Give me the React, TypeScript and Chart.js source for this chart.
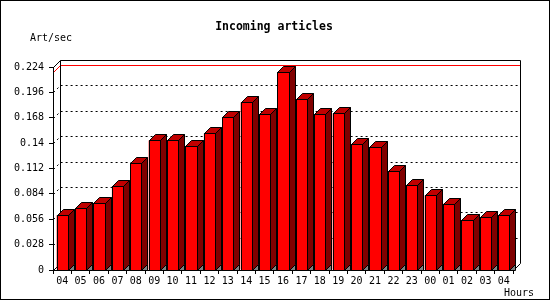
import React, { useEffect, useRef } from "react";
import { Chart, registerables } from "chart.js";

Chart.register(...registerables);

const categories = ["04","05","06","07","08","09","10","11","12","13","14","15","16","17","18","19","20","21","22","23","00","01","02","03","04"];
const articlesPerSec = [0.0603,0.068,0.0735,0.0923,0.118,0.143,0.143,0.1364,0.1507,0.1683,0.1849,0.1716,0.218,0.1882,0.1716,0.1727,0.1386,0.1353,0.1088,0.0934,0.0823,0.0731,0.0548,0.0581,0.0603];
const yTicks = [0,0.028,0.056,0.084,0.112,0.14,0.168,0.196,0.224];
const yTickLabels = ["0","0.028","0.056","0.084","0.112","0.14","0.168","0.196","0.224"];
const titleText = "Incoming articles";
const yTitle = "Art/sec";
const xTitle = "Hours";

const MONO = '"DejaVu Sans Mono", monospace';
const D = 7; // plot plane depth
const BD = 6; // bar depth

const plugin3d = {
  id: "jp3d",
  beforeDraw(chart: any) {
    const ctx = chart.ctx;
    const { left, top, right, bottom } = chart.chartArea;
    const ys = chart.scales.y;
    ctx.save();
    ctx.fillStyle = "#fff";
    ctx.fillRect(0, 0, chart.width, chart.height);
    ctx.strokeStyle = "#000";
    ctx.lineWidth = 1;
    ctx.strokeRect(0.5, 0.5, chart.width - 1, chart.height - 1);

    // texts
    ctx.fillStyle = "#000";
    ctx.font = `bold 11.5px ${MONO}`;
    ctx.textAlign = "center";
    ctx.textBaseline = "alphabetic";
    ctx.fillText(titleText, 274, 30);
    ctx.font = `10px ${MONO}`;
    ctx.textAlign = "left";
    ctx.fillText(yTitle, 30, 40.5);
    ctx.fillText(xTitle, 504, 296);

    const L = Math.round(left), T = Math.round(top), R = Math.round(right), B = Math.round(bottom);
    // dashed grid on back plane
    ctx.setLineDash([2, 3]);
    ctx.strokeStyle = "#000";
    for (const v of yTicks) {
      if (v === 0 || v === yTicks[yTicks.length - 1]) continue;
      const py = Math.round(ys.getPixelForValue(v));
      ctx.beginPath();
      ctx.moveTo(L + 0.5, py + 0.5);
      ctx.lineTo(L + D + 0.5, py - D + 0.5);
      ctx.lineTo(R + D + 0.5, py - D + 0.5);
      ctx.stroke();
    }
    ctx.setLineDash([]);

    // max line
    const maxV = Math.max(...articlesPerSec);
    const my = Math.round(ys.getPixelForValue(maxV));
    ctx.strokeStyle = "#ff0000";
    ctx.beginPath();
    ctx.moveTo(L + 0.5, my + 0.5);
    ctx.lineTo(L + D + 0.5, my - D + 0.5);
    ctx.lineTo(R + D + 0.5, my - D + 0.5);
    ctx.stroke();

    // back plane frame
    ctx.strokeStyle = "#000";
    ctx.beginPath();
    ctx.moveTo(L + 0.5, T + 0.5);
    ctx.lineTo(L + D + 0.5, T - D + 0.5);
    ctx.lineTo(R + D + 0.5, T - D + 0.5);
    ctx.lineTo(R + D + 0.5, B - D + 0.5);
    ctx.lineTo(R + 0.5, B + 0.5);
    ctx.moveTo(L + D + 0.5, T - D + 0.5);
    ctx.lineTo(L + D + 0.5, B - D + 0.5);
    ctx.lineTo(L + 0.5, B + 0.5);
    ctx.stroke();
    ctx.restore();
  },
  afterDatasetsDraw(chart: any) {
    const ctx = chart.ctx;
    const meta = chart.getDatasetMeta(0);
    ctx.save();
    ctx.lineWidth = 1;
    ctx.strokeStyle = "#000";
    for (const el of meta.data) {
      const p = el.getProps(["x", "y", "base", "width"], true);
      const xl = Math.round(p.x - p.width / 2);
      const xr = Math.round(p.x + p.width / 2);
      const yt = Math.round(p.y);
      const yb = Math.round(p.base);
      // gray floor shadow
      ctx.fillStyle = "#808080";
      ctx.beginPath();
      ctx.moveTo(xr + 0.5, yb + 0.5);
      ctx.lineTo(xr + BD + 0.5, yb - BD + 0.5);
      ctx.lineTo(xr + BD + 0.5, yb + 0.5);
      ctx.closePath();
      ctx.fill();
      ctx.stroke();
      // side
      ctx.fillStyle = "#800000";
      ctx.beginPath();
      ctx.moveTo(xr + 0.5, yt + 0.5);
      ctx.lineTo(xr + BD + 0.5, yt - BD + 0.5);
      ctx.lineTo(xr + BD + 0.5, yb - BD + 0.5);
      ctx.lineTo(xr + 0.5, yb + 0.5);
      ctx.closePath();
      ctx.fill();
      ctx.stroke();
      // top
      ctx.fillStyle = "#c00000";
      ctx.beginPath();
      ctx.moveTo(xl + 0.5, yt + 0.5);
      ctx.lineTo(xl + BD + 0.5, yt - BD + 0.5);
      ctx.lineTo(xr + BD + 0.5, yt - BD + 0.5);
      ctx.lineTo(xr + 0.5, yt + 0.5);
      ctx.closePath();
      ctx.fill();
      ctx.stroke();
      // front
      ctx.fillStyle = "#ff0000";
      ctx.fillRect(xl, yt, xr - xl, yb - yt);
      ctx.strokeRect(xl + 0.5, yt + 0.5, xr - xl, yb - yt);
    }
    ctx.restore();
  },
};

export default function App() {
  const ref = useRef<HTMLCanvasElement>(null);
  useEffect(() => {
    if (!ref.current) return;
    const chart = new Chart(ref.current, {
      type: "bar",
      data: {
        labels: categories,
        datasets: [
          {
            data: articlesPerSec,
            backgroundColor: "#ff0000",
            borderWidth: 0,
            barPercentage: 0.6,
            categoryPercentage: 1,
          },
        ],
      },
      options: {
        animation: false,
        responsive: false,
        devicePixelRatio: 1,
        layout: { padding: { left: 0, top: 67, right: 37, bottom: 0 } },
        plugins: { legend: { display: false }, tooltip: { enabled: false }, title: { display: false } },
        scales: {
          x: {
            type: "category",
            offset: true,
            grid: { offset: true, drawOnChartArea: false, drawTicks: true, tickLength: 4, color: "#000" },
            border: { display: true, color: "#000" },
            ticks: { color: "#000", font: { family: MONO, size: 10 }, padding: 1, maxRotation: 0, autoSkip: false },
            afterFit: (s: any) => { s.height = 30; },
          },
          y: {
            type: "linear",
            min: 0,
            max: 0.224,
            grid: { drawOnChartArea: false, drawTicks: true, tickLength: 4, color: "#000" },
            border: { display: true, color: "#000" },
            afterBuildTicks: (s: any) => { s.ticks = yTicks.map((v) => ({ value: v })); },
            ticks: {
              color: "#000",
              font: { family: MONO, size: 10 },
              padding: 5,
              callback: (_v: any, i: number) => yTickLabels[i],
            },
            afterFit: (s: any) => { s.width = 53; },
          },
        },
      },
      plugins: [plugin3d],
    });
    return () => chart.destroy();
  }, []);
  return (
    <div style={{ position: "fixed", left: 0, top: 0, width: 550, height: 300 }}>
      <canvas ref={ref} width={550} height={300} />
    </div>
  );
}
